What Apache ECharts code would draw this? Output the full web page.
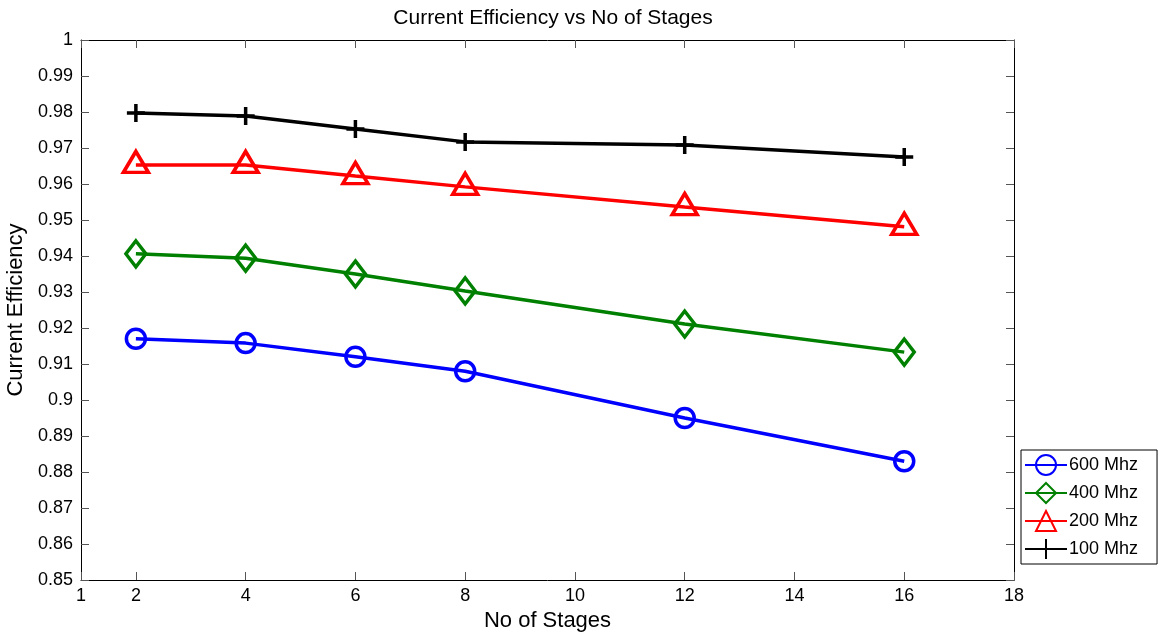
<!DOCTYPE html>
<html>
<head>
<meta charset="utf-8">
<script src="https://cdn.jsdelivr.net/npm/echarts@6/dist/echarts.min.js"></script>
<style>
  html, body { margin: 0; padding: 0; background: #fff; }
  #chart { width: 1163px; height: 635px; }
</style>
</head>
<body>
<div id="chart"></div>
<script>
// Number of stages (x positions)
const stages = [2, 4, 6, 8, 12, 16];
// Current efficiency per frequency
const eff600 = [0.917, 0.9158, 0.912, 0.908, 0.895, 0.883];
const eff400 = [0.9406, 0.9394, 0.935, 0.9303, 0.9211, 0.9133];
const eff200 = [0.9653, 0.9653, 0.9622, 0.9592, 0.9536, 0.9481];
const eff100 = [0.9797, 0.9789, 0.9753, 0.9717, 0.9708, 0.9675];
const seriesNames = ['600 Mhz', '400 Mhz', '200 Mhz', '100 Mhz'];
// Tick labels
const xTicks = [1, 2, 4, 6, 8, 10, 12, 14, 16, 18];

const FONT = 'Liberation Sans, Arial, Helvetica, sans-serif';
const plusPath = 'path://M0,10L20,10M10,0L10,20';

function pairs(ys) { return stages.map((x, i) => [x, ys[i]]); }

function lineSeries(name, ys, color, symbol, size, offset) {
  return {
    name: name,
    type: 'line',
    data: pairs(ys),
    xAxisIndex: 0,
    yAxisIndex: 0,
    symbol: symbol,
    symbolSize: size,
    symbolOffset: offset || [0, 0],
    showAllSymbol: true,
    lineStyle: { color: color, width: 3.5 },
    itemStyle: { color: 'transparent', borderColor: color, borderWidth: 3.5 },
    emphasis: { disabled: true },
    animation: false,
    z: 3
  };
}

const yFmt = v => String(parseFloat(v.toFixed(2)));

const chart = echarts.init(document.getElementById('chart'));
chart.setOption({
  backgroundColor: '#fff',
  animation: false,
  title: {
    text: 'Current Efficiency vs No of Stages',
    left: 548, top: 3, textAlign: 'center',
    textStyle: { fontFamily: FONT, fontSize: 21, fontWeight: 'normal', color: '#000' }
  },
  legend: {
    orient: 'vertical',
    left: 1021, top: 450,
    padding: [4, 19, 4, 3],
    itemGap: 6,
    itemWidth: 42,
    itemHeight: 25,
    borderColor: '#000',
    borderWidth: 1,
    backgroundColor: '#fff',
    textStyle: { fontFamily: FONT, fontSize: 18, color: '#000', padding: [0, 0, 0, -3] },
    data: seriesNames
  },
  grid: { left: 81, right: 149, top: 40, bottom: 55, outerBoundsMode: 'none', containLabel: false },
  xAxis: [{
    type: 'value', min: 1, max: 18,
    name: 'No of Stages', nameLocation: 'middle', nameGap: 28,
    nameTextStyle: { fontFamily: FONT, fontSize: 22, color: '#000' },
    axisLine: { onZero: false, lineStyle: { color: '#000', width: 1 } },
    axisTick: { inside: true, length: 8, lineStyle: { color: '#555' }, customValues: xTicks },
    axisLabel: { fontFamily: FONT, fontSize: 18, color: '#000', margin: 7, customValues: xTicks },
    splitLine: { show: false }
  }, {
    type: 'value', min: 1, max: 18, position: 'top',
    axisLine: { onZero: false, lineStyle: { color: '#000', width: 1 } },
    axisTick: { inside: true, length: 8, lineStyle: { color: '#555' }, customValues: xTicks },
    axisLabel: { show: false },
    splitLine: { show: false }
  }],
  yAxis: [{
    type: 'value', min: 0.85, max: 1, interval: 0.01,
    name: 'Current Efficiency', nameLocation: 'middle', nameGap: 48,
    nameTextStyle: { fontFamily: FONT, fontSize: 22, color: '#000' },
    axisLine: { show: true, onZero: false, lineStyle: { color: '#000', width: 1 } },
    axisTick: { show: true, inside: true, length: 8, lineStyle: { color: '#555' } },
    axisLabel: { fontFamily: FONT, fontSize: 18, color: '#000', margin: 8, formatter: yFmt },
    splitLine: { show: false }
  }, {
    type: 'value', min: 0.85, max: 1, interval: 0.01, position: 'right',
    axisLine: { show: true, onZero: false, lineStyle: { color: '#000', width: 1 } },
    axisTick: { show: true, inside: true, length: 8, lineStyle: { color: '#555' } },
    axisLabel: { show: false },
    splitLine: { show: false }
  }],
  series: [
    lineSeries(seriesNames[0], eff600, '#0000ff', 'circle', 19),
    lineSeries(seriesNames[1], eff400, '#008000', 'diamond', [20, 26]),
    lineSeries(seriesNames[2], eff200, '#ff0000', 'triangle', [25, 21], [0, -3]),
    lineSeries(seriesNames[3], eff100, '#000000', plusPath, 18)
  ]
});
</script>
</body>
</html>
